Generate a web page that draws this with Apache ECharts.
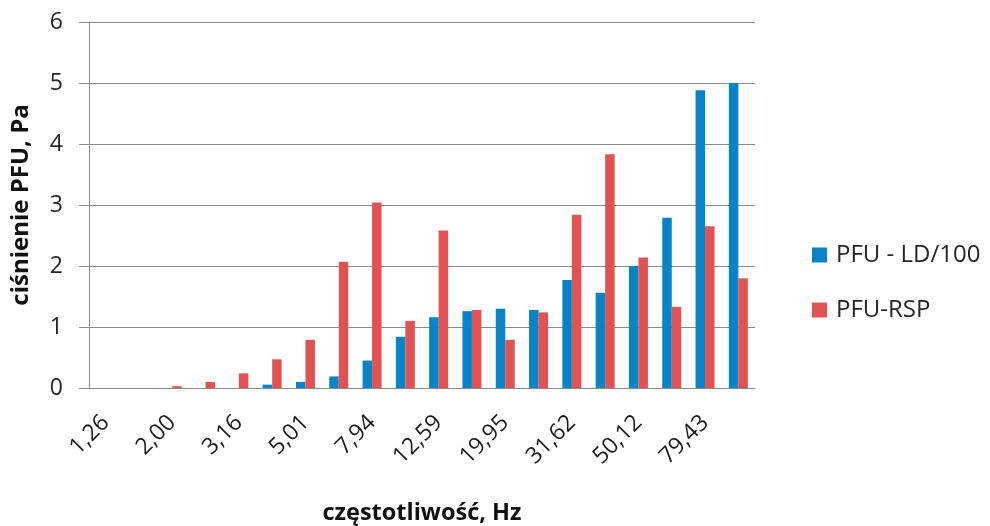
<!DOCTYPE html>
<html>
<head>
<meta charset="utf-8">
<script src="https://cdn.jsdelivr.net/npm/echarts@6/dist/echarts.min.js"></script>
<style>html,body{margin:0;padding:0;background:#fff}#c{width:990px;height:526px}</style>
</head>
<body>
<div id="c"></div>
<script>
const categories = ['1,26','1,58','2,00','2,51','3,16','3,98','5,01','6,31','7,94','10,00','12,59','15,85','19,95','25,12','31,62','39,81','50,12','63,10','79,43','100,00'];
const seriesNames = ['PFU - LD/100', 'PFU-RSP'];
const ldValues = [0, 0, 0, 0, 0, 0.055, 0.1, 0.19, 0.45, 0.84, 1.16, 1.26, 1.30, 1.28, 1.77, 1.56, 2.0, 2.79, 4.88, 5.0];
const rspValues = [0, 0, 0.03, 0.1, 0.24, 0.47, 0.79, 2.07, 3.04, 1.1, 2.58, 1.28, 0.79, 1.24, 2.84, 3.83, 2.14, 1.33, 2.65, 1.80];
const yTicks = {min: 0, max: 6, interval: 1};

const FONT = '"Open Sans", sans-serif';
const GRIDC = '#8a8a8a';
const chart = echarts.init(document.getElementById('c'), null, {renderer: 'canvas'});
chart.setOption({
  animation: false,
  backgroundColor: '#ffffff',
  grid: {left: 89, right: 235, top: 22, bottom: 138, containLabel: false, outerBoundsMode: 'none'},
  legend: {
    orient: 'vertical', left: 807, top: 238,
    itemWidth: 15, itemHeight: 15, itemGap: 31,
    icon: 'rect',
    textStyle: {fontFamily: FONT, fontSize: 24, color: '#262626', padding: [0,0,0,4], lineHeight: 24},
    data: seriesNames
  },
  xAxis: {
    type: 'category',
    data: categories,
    boundaryGap: true,
    axisLine: {show: true, lineStyle: {color: GRIDC, width: 1}},
    axisTick: {show: false},
    axisLabel: {interval: 1, rotate: 45, margin: 31, fontFamily: FONT, fontSize: 23, color: '#1a1a1a'},
    name: 'częstotliwość, Hz',
    nameLocation: 'middle',
    nameGap: 113,
    nameTextStyle: {fontFamily: FONT, fontSize: 23.5, fontWeight: 'bold', color: '#111'}
  },
  yAxis: {
    type: 'value',
    min: yTicks.min, max: yTicks.max, interval: yTicks.interval,
    axisLine: {show: true, lineStyle: {color: GRIDC, width: 1}},
    axisTick: {show: true, length: 10, inside: false, lineStyle: {color: GRIDC}},
    splitLine: {show: true, lineStyle: {color: GRIDC, width: 1}},
    axisLabel: {margin: 26, fontFamily: FONT, fontSize: 23, color: '#262626'},
    name: 'ciśnienie PFU, Pa',
    nameLocation: 'middle',
    nameGap: 56,
    nameRotate: 90,
    nameTextStyle: {fontFamily: FONT, fontSize: 24, fontWeight: 'bold', color: '#111'}
  },
  series: [
    {name: seriesNames[0], type: 'bar', data: ldValues, barWidth: 9.5, barGap: '0%', itemStyle: {color: '#0784C6'}},
    {name: seriesNames[1], type: 'bar', data: rspValues, barWidth: 9.5, barGap: '0%', itemStyle: {color: '#E15353'}}
  ]
});
</script>
</body>
</html>
